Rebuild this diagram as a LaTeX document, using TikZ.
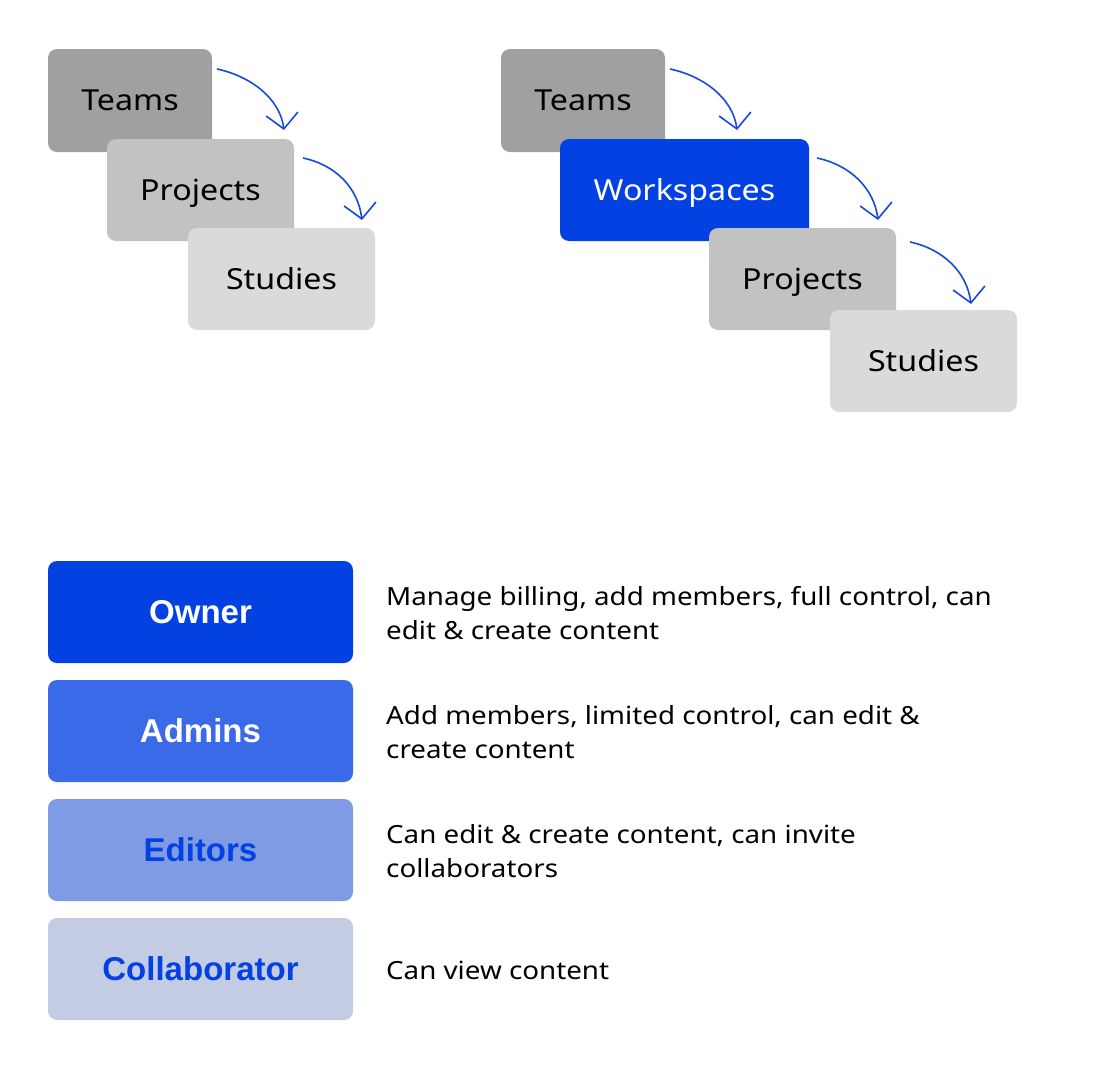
\documentclass[tikz,border=0pt]{standalone}
\usepackage{fontspec}
\setmainfont{Noto Sans}[FakeStretch=1.11]
\newfontfamily\rolefont{Liberation Sans}
\usetikzlibrary{arrows.meta}
\definecolor{cdark}{HTML}{A0A0A0}
\definecolor{cmid}{HTML}{C2C2C2}
\definecolor{clight}{HTML}{DADADA}
\definecolor{cblue}{HTML}{0341E3}
\definecolor{cadmin}{HTML}{3A6AE8}
\definecolor{cedit}{HTML}{7F9BE3}
\definecolor{ccollab}{HTML}{C3CCE3}
\definecolor{carrow}{HTML}{1748E0}
\tikzset{
  box/.style={rectangle, rounded corners=9pt, inner sep=0pt, text=black,
    font=\fontsize{29}{34}\selectfont, text height=20.7pt, text depth=0pt},
  small/.style={box, minimum width=164pt, minimum height=103pt},
  wide/.style={box, minimum width=187pt, minimum height=102pt},
  role/.style={rectangle, rounded corners=9pt, inner sep=0pt, minimum width=305pt,
    minimum height=102pt, font=\rolefont\fontsize{33}{38}\selectfont\bfseries,
    text height=23.6pt, text depth=0pt},
  desc/.style={anchor=west, align=left, inner sep=0pt, text=black,
    font=\fontsize{25}{34}\selectfont},
  flow/.style={draw=carrow, line width=1.6pt, -{Straight Barb[length=15pt,width=32pt]}}
}
\begin{document}
\begin{tikzpicture}[x=1pt,y=1pt]
\useasboundingbox[fill=white] (0,0) rectangle (1093,-1071);
% left group
\node[small, fill=cdark] (lteams) at (130,-100.5) {Teams};
\node[wide, fill=cmid] (lproj) at (200.5,-190) {Projects};
\node[wide, fill=clight] (lstud) at (281.5,-279) {Studies};
\coordinate (la1s) at (217,-69);
\coordinate (la1e) at (284,-130);
\coordinate (la2s) at (303,-158);
\coordinate (la2e) at (362,-220);
\draw[flow] (la1s) .. controls (250,-76) and (280,-98) .. (la1e);
\draw[flow] (la2s) .. controls (336,-165) and (358,-188) .. (la2e);
% right group
\node[small, fill=cdark] (rteams) at (583,-100.5) {Teams};
\node[box, fill=cblue, text=white, minimum width=249pt, minimum height=102pt] (rwork) at (684.5,-190) {Workspaces};
\node[wide, fill=cmid] (rproj) at (802.5,-279) {Projects};
\node[wide, fill=clight] (rstud) at (923.5,-361) {Studies};
\coordinate (ra1s) at (670,-69);
\coordinate (ra1e) at (737,-130);
\coordinate (ra2s) at (817,-158);
\coordinate (ra2e) at (878,-220);
\coordinate (ra3s) at (910,-242);
\coordinate (ra3e) at (971,-304);
\draw[flow] (ra1s) .. controls (703,-76) and (733,-98) .. (ra1e);
\draw[flow] (ra2s) .. controls (850,-165) and (874,-188) .. (ra2e);
\draw[flow] (ra3s) .. controls (943,-249) and (967,-272) .. (ra3e);
% roles
\node[role, fill=cblue, text=white] (owner) at (200.5,-612) {Owner};
\node[role, fill=cadmin, text=white] (admins) at (200.5,-731) {Admins};
\node[role, fill=cedit, text=cblue] (editors) at (200.5,-850) {Editors};
\node[role, fill=ccollab, text=cblue] (collab) at (200.5,-969) {Collaborator};
\node[desc] (downer) at (386,-613) {Manage billing, add members, full control, can\\edit \& create content};
\node[desc] (dadmins) at (386,-732) {Add members, limited control, can edit \&\\create content};
\node[desc] (deditors) at (386,-851) {Can edit \& create content, can invite\\collaborators};
\node[desc] (dcollab) at (386,-970) {Can view content};
\end{tikzpicture}
\end{document}
